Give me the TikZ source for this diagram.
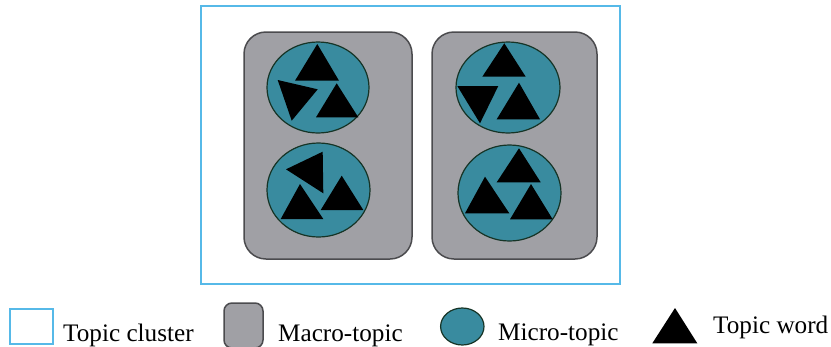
\documentclass[tikz,border=0pt]{standalone}
\usepackage{fontspec}
\setmainfont{Liberation Serif}
\definecolor{clusterblue}{RGB}{86,185,232}
\definecolor{macrogray}{RGB}{160,160,165}
\definecolor{macroedge}{RGB}{75,75,78}
\definecolor{microteal}{RGB}{57,139,159}
\definecolor{microedge}{RGB}{22,52,38}
\tikzset{
  cluster/.style={draw=clusterblue, line width=2pt},
  macro/.style={draw=macroedge, fill=macrogray, line width=1.5pt, rounded corners=22pt},
  micro/.style={draw=microedge, fill=microteal, line width=1.2pt},
  word/.style={fill=black},
  legendtext/.style={anchor=base west, inner sep=0pt, font=\fontsize{25.2}{29}\selectfont}
}
\begin{document}
\begin{tikzpicture}[x=1pt,y=-1pt]
\useasboundingbox (0,0) rectangle (831,346);

% topic cluster frame
\draw[cluster] (201,6) rectangle (620,284);

% macro-topics
\draw[macro] (244,32) rectangle (412,259);
\draw[macro] (432,32) rectangle (597,259);

% micro-topics
\draw[micro] (318,87.5) ellipse [x radius=51, y radius=45.5];
\draw[micro] (318.5,190) ellipse [x radius=51.5, y radius=47];
\draw[micro] (508,87.5) ellipse [x radius=52, y radius=45.5];
\draw[micro] (509.5,193) ellipse [x radius=51.5, y radius=48];

% topic words, left macro-topic
\fill[word] (317.3,44) -- (295,80.7) -- (339,80.7) -- cycle;
\fill[word] (277.7,80) -- (317.7,89.3) -- (291.7,120.7) -- cycle;
\fill[word] (336.7,83.3) -- (316,117.3) -- (358.3,117.3) -- cycle;
\fill[word] (286,169.3) -- (322.7,151.7) -- (323.3,193.3) -- cycle;
\fill[word] (300,184) -- (280.7,219) -- (323.3,219) -- cycle;
\fill[word] (341.7,175.7) -- (320.7,210) -- (363.3,210) -- cycle;

% topic words, right macro-topic
\fill[word] (504.3,43.3) -- (482.3,76.7) -- (525.7,76.7) -- cycle;
\fill[word] (457.3,86) -- (498.3,86) -- (480,123.3) -- cycle;
\fill[word] (519,82.7) -- (496.7,119.3) -- (540,119.3) -- cycle;
\fill[word] (519,148.3) -- (496.7,182.3) -- (540.7,182.3) -- cycle;
\fill[word] (485,176.7) -- (465,213.3) -- (509.3,213.3) -- cycle;
\fill[word] (531,184) -- (510,219.3) -- (552.7,219.3) -- cycle;

% legend
\draw[cluster] (10,309) rectangle (53,344);
\node[legendtext] (lc) at (63,341.5) {Topic cluster};
\draw[macro, rounded corners=8pt] (224,303) rectangle (263,348);
\node[legendtext] (lm) at (278,341.5) {Macro-topic};
\draw[micro] (462.3,326.5) ellipse [x radius=21.7, y radius=18.5];
\node[legendtext] (lu) at (498,340) {Micro-topic};
\fill[word] (675,308) -- (652.3,343.3) -- (697.3,343.3) -- cycle;
\node[legendtext] (lw) at (713,333) {Topic word};
\end{tikzpicture}
\end{document}
